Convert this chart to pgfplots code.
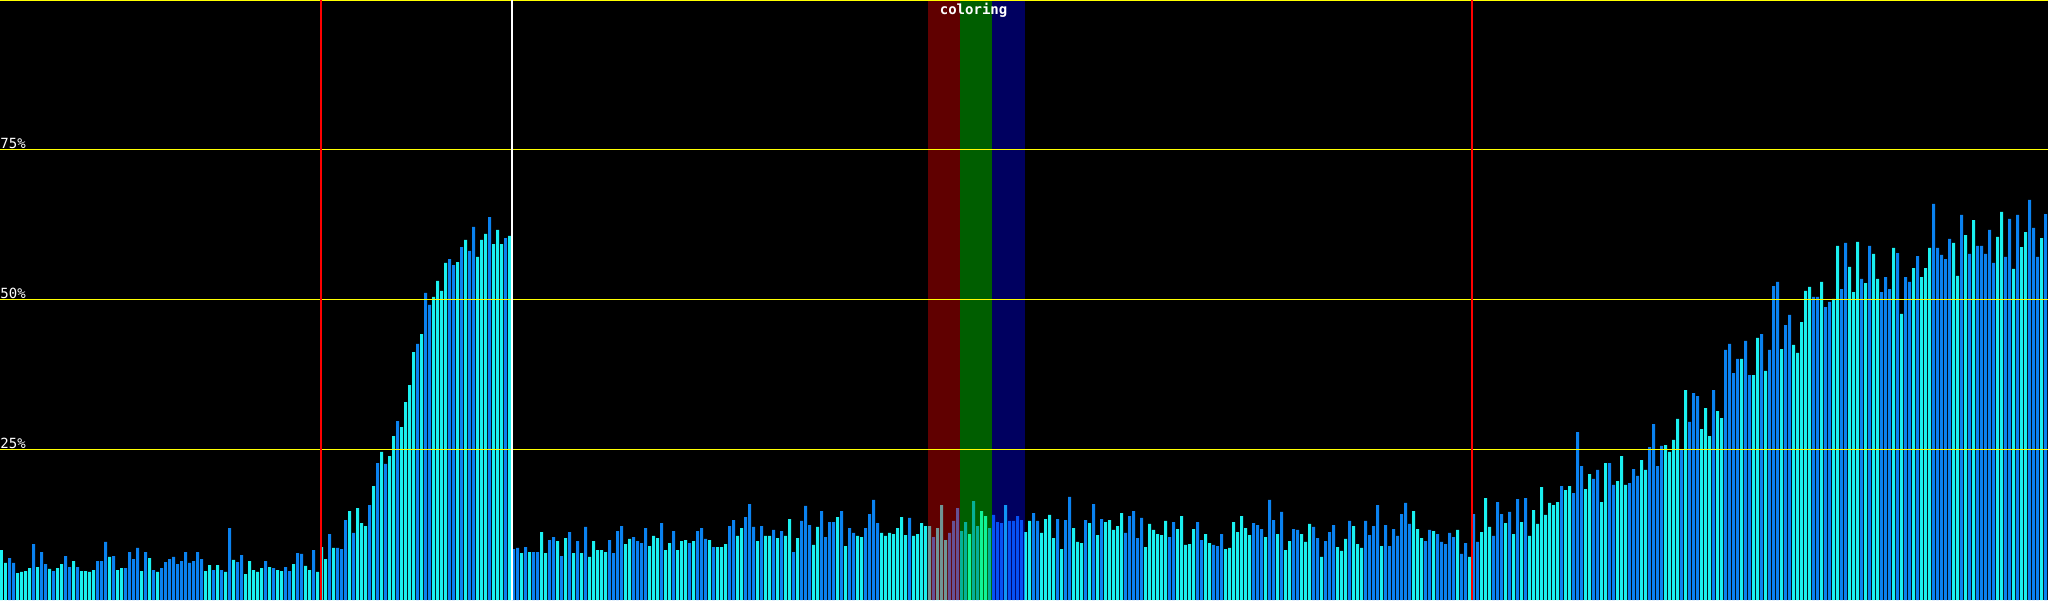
\documentclass[border=0pt]{standalone}
\usepackage{pgfplots}
\usepackage{pgfplotstable}
\pgfplotsset{compat=1.18}
\usepackage{fontspec}
\newfontfamily\monofont{DejaVu Sans Mono}
\definecolor{barblue}{RGB}{10,130,240}
\definecolor{barcyan}{RGB}{26,240,240}
\definecolor{gridyellow}{RGB}{255,255,0}
\pgfplotstableread{
i v c
0 8.3 1
1 6.2 1
2 7.0 0
3 6.2 0
4 4.5 1
5 4.7 1
6 4.8 1
7 5.3 1
8 9.3 0
9 5.5 1
10 8.0 0
11 6.0 0
12 5.2 1
13 4.8 0
14 5.3 1
15 6.0 1
16 7.3 0
17 5.5 0
18 6.5 1
19 5.5 0
20 4.8 1
21 4.8 1
22 4.7 1
23 5.0 1
24 6.5 0
25 6.5 0
26 9.7 0
27 7.2 1
28 7.3 0
29 5.0 1
30 5.3 1
31 5.3 0
32 8.0 0
33 6.8 0
34 8.7 0
35 4.8 1
36 8.0 0
37 7.0 1
38 5.0 0
39 4.7 1
40 5.3 0
41 6.3 0
42 6.8 0
43 7.2 0
44 6.0 0
45 6.5 0
46 8.0 0
47 6.2 0
48 6.5 0
49 8.0 0
50 6.8 0
51 4.8 1
52 5.8 1
53 5.0 0
54 5.8 1
55 5.0 0
56 4.7 1
57 12.0 0
58 6.7 1
59 6.3 0
60 7.5 0
61 4.3 1
62 6.5 1
63 5.0 1
64 4.7 1
65 5.3 1
66 6.5 0
67 5.5 1
68 5.3 0
69 5.0 1
70 4.8 1
71 5.5 0
72 4.8 0
73 6.0 1
74 7.8 0
75 7.7 0
76 5.7 1
77 5.0 1
78 8.3 0
79 4.7 1
80 8.8 1
81 6.8 1
82 11.0 0
83 8.7 1
84 8.7 0
85 8.5 0
86 13.3 0
87 14.8 1
88 11.2 0
89 15.3 1
90 12.8 1
91 12.3 1
92 15.8 0
93 19.0 1
94 22.8 0
95 24.7 1
96 22.7 0
97 24.0 1
98 27.3 1
99 29.8 0
100 28.8 1
101 33.0 1
102 35.8 1
103 41.3 1
104 42.7 0
105 44.3 1
106 51.2 0
107 49.2 0
108 50.5 1
109 53.2 1
110 51.5 1
111 56.2 1
112 56.8 0
113 55.8 0
114 56.3 1
115 58.8 0
116 60.0 1
117 58.2 0
118 62.2 0
119 57.2 1
120 60.0 1
121 61.0 1
122 63.8 0
123 59.3 1
124 61.7 1
125 59.3 1
126 60.3 0
127 60.7 1
128 8.5 0
129 8.7 0
130 7.8 1
131 8.8 0
132 8.0 1
133 8.0 0
134 8.0 0
135 11.3 1
136 7.8 1
137 10.0 0
138 10.5 0
139 9.8 1
140 7.3 0
141 10.3 1
142 11.3 0
143 7.8 1
144 9.8 0
145 7.8 1
146 12.2 0
147 7.2 1
148 9.8 1
149 8.3 1
150 8.3 1
151 8.0 1
152 10.0 0
153 7.8 0
154 11.5 0
155 12.3 0
156 9.3 1
157 10.2 1
158 10.5 0
159 9.8 0
160 9.5 0
161 12.0 0
162 9.0 1
163 10.7 1
164 10.3 1
165 12.8 0
166 8.3 1
167 9.5 1
168 11.5 0
169 8.3 1
170 9.8 1
171 10.0 1
172 9.5 0
173 9.8 1
174 11.5 0
175 12.0 0
176 10.2 0
177 10.0 1
178 8.8 0
179 8.8 1
180 8.8 1
181 9.3 1
182 12.3 0
183 13.3 0
184 10.7 1
185 12.0 1
186 13.8 0
187 16.0 0
188 12.2 0
189 9.8 1
190 12.3 0
191 10.7 1
192 10.7 1
193 11.7 0
194 10.3 1
195 11.5 0
196 10.7 1
197 13.5 1
198 8.0 0
199 10.3 1
200 13.2 0
201 15.7 0
202 12.5 0
203 9.2 1
204 12.2 1
205 14.8 0
206 10.5 0
207 13.0 0
208 13.0 0
209 13.8 1
210 14.8 0
211 9.0 1
212 12.0 0
213 11.2 0
214 10.7 1
215 10.5 1
216 12.0 0
217 14.3 0
218 16.7 0
219 12.8 0
220 11.2 1
221 10.7 1
222 11.2 1
223 11.0 1
224 12.0 1
225 13.8 1
226 10.8 1
227 13.7 0
228 10.7 1
229 11.0 1
230 12.8 1
231 12.3 1
232 12.3 1
233 10.5 0
234 12.0 1
235 15.8 1
236 10.0 1
237 11.2 0
238 13.2 0
239 15.3 0
240 11.5 0
241 13.0 0
242 11.0 1
243 16.5 0
244 12.3 0
245 14.8 1
246 14.0 1
247 12.0 0
248 14.2 0
249 13.0 0
250 12.8 0
251 15.8 1
252 13.2 0
253 13.2 0
254 14.0 0
255 13.3 0
256 11.3 1
257 13.2 1
258 14.5 0
259 13.2 0
260 11.2 1
261 13.5 1
262 14.2 1
263 10.3 1
264 13.5 0
265 8.5 1
266 13.3 0
267 17.2 0
268 12.0 1
269 9.7 1
270 9.5 1
271 13.3 0
272 12.8 1
273 16.0 0
274 10.8 1
275 13.5 0
276 13.0 1
277 13.3 1
278 11.7 1
279 12.3 1
280 14.5 1
281 11.2 0
282 14.0 0
283 14.8 0
284 10.3 0
285 13.7 0
286 8.8 1
287 12.7 1
288 11.7 1
289 11.0 1
290 10.8 1
291 13.2 1
292 10.5 0
293 13.0 0
294 11.8 1
295 14.0 1
296 9.2 1
297 9.3 1
298 11.8 1
299 13.0 0
300 10.0 0
301 11.0 1
302 9.5 1
303 9.2 0
304 9.0 0
305 11.0 0
306 8.5 1
307 8.7 1
308 13.0 1
309 11.3 1
310 14.0 1
311 12.0 1
312 10.8 1
313 12.8 0
314 12.5 0
315 11.8 0
316 10.5 1
317 16.7 0
318 13.3 0
319 11.0 1
320 14.7 0
321 8.3 1
322 9.8 1
323 11.8 0
324 11.7 0
325 11.0 1
326 9.7 1
327 12.7 1
328 12.2 0
329 10.3 0
330 7.2 1
331 9.8 0
332 11.3 0
333 12.5 0
334 8.8 1
335 8.2 1
336 10.2 1
337 13.2 0
338 12.3 1
339 9.3 1
340 8.7 1
341 13.2 0
342 10.8 0
343 12.3 0
344 15.8 0
345 9.0 1
346 12.5 0
347 9.0 0
348 11.8 0
349 10.7 0
350 14.3 0
351 16.2 0
352 12.7 0
353 14.8 1
354 11.8 1
355 10.3 1
356 9.8 0
357 11.7 0
358 11.5 1
359 11.0 0
360 9.7 0
361 9.3 0
362 11.2 0
363 10.5 0
364 11.7 1
365 7.7 0
366 9.5 0
367 7.2 1
368 14.3 0
369 9.7 0
370 11.3 1
371 17.0 1
372 12.2 1
373 10.7 0
374 16.3 0
375 14.3 0
376 12.8 1
377 14.7 0
378 11.0 1
379 16.8 0
380 13.0 1
381 17.0 0
382 10.7 1
383 15.0 1
384 12.7 1
385 18.8 1
386 14.2 1
387 16.2 1
388 15.8 1
389 16.3 1
390 19.0 0
391 18.3 1
392 19.0 1
393 17.8 0
394 28.0 0
395 22.3 0
396 18.5 1
397 21.0 1
398 20.2 0
399 21.7 0
400 16.3 1
401 22.8 1
402 22.8 0
403 19.2 0
404 19.8 1
405 24.0 1
406 19.2 1
407 19.5 0
408 21.8 0
409 20.7 0
410 23.3 1
411 21.7 1
412 25.5 0
413 29.3 0
414 22.3 0
415 25.7 0
416 25.8 1
417 24.7 1
418 26.7 1
419 30.2 1
420 25.0 0
421 35.0 1
422 29.7 0
423 34.5 0
424 34.0 0
425 28.5 1
426 32.0 1
427 27.3 1
428 35.0 0
429 31.5 1
430 30.3 1
431 41.7 0
432 42.7 0
433 37.8 0
434 40.2 0
435 40.2 1
436 43.2 0
437 37.5 0
438 37.5 1
439 43.7 1
440 44.3 0
441 38.2 1
442 41.7 0
443 52.3 0
444 53.0 0
445 41.8 1
446 45.8 0
447 47.5 0
448 42.5 1
449 41.2 1
450 46.3 1
451 51.5 1
452 52.2 1
453 50.5 0
454 50.5 0
455 53.0 1
456 48.8 0
457 49.7 0
458 50.2 1
459 59.0 1
460 51.8 0
461 59.5 0
462 55.5 1
463 51.3 1
464 59.7 1
465 53.5 0
466 52.8 1
467 59.0 0
468 57.7 1
469 53.5 1
470 51.3 0
471 53.8 0
472 51.8 0
473 58.7 1
474 57.8 0
475 47.7 1
476 53.8 0
477 53.0 0
478 55.3 1
479 57.3 0
480 53.8 1
481 55.3 1
482 58.7 1
483 66.0 0
484 58.7 0
485 57.5 0
486 56.8 0
487 60.2 0
488 59.5 1
489 54.0 1
490 64.2 0
491 60.8 1
492 57.7 0
493 63.3 1
494 59.0 0
495 59.0 0
496 57.7 0
497 61.7 0
498 56.2 0
499 60.5 1
500 64.7 1
501 57.2 0
502 63.5 0
503 55.2 1
504 64.2 0
505 58.8 1
506 61.3 1
507 66.7 0
508 62.0 0
509 57.2 0
510 60.3 1
511 64.3 0
}\bars
\begin{document}
\begin{tikzpicture}
\fill[black] (0,0) rectangle (1024pt,300pt);
\begin{axis}[
  at={(0,0)}, anchor=south west,
  scale only axis, width=1024pt, height=300pt,
  xmin=0, xmax=512, ymin=0, ymax=100,
  hide axis,
]
\addplot[ybar, bar width=0.75, bar shift=0pt, draw=none, fill=barblue]
  table[x expr=\thisrow{i}+0.375, y expr={\thisrow{c}>0.5 ? nan : \thisrow{v}}] {\bars};
\addplot[ybar, bar width=0.75, bar shift=0pt, draw=none, fill=barcyan]
  table[x expr=\thisrow{i}+0.375, y expr={\thisrow{c}>0.5 ? \thisrow{v} : nan}] {\bars};
% coloring bands
\fill[red, opacity=0.375] (axis cs:232,0) rectangle (axis cs:240,100);
\fill[green, opacity=0.37] (axis cs:240,0) rectangle (axis cs:248,100);
\fill[blue, opacity=0.375] (axis cs:248,0) rectangle (axis cs:256.25,100);
% grid lines
\addplot[gridyellow, line width=0.5pt] coordinates {(0,25.083) (512,25.083)};
\addplot[gridyellow, line width=0.5pt] coordinates {(0,50.083) (512,50.083)};
\addplot[gridyellow, line width=0.5pt] coordinates {(0,75.083) (512,75.083)};
\addplot[gridyellow, line width=1pt] coordinates {(0,100) (512,100)};
% vertical markers
\addplot[red, line width=1pt] coordinates {(80.25,0) (80.25,100)};
\addplot[white, line width=1pt] coordinates {(128.0,0) (128.0,100)};
\addplot[red, line width=1pt] coordinates {(368.0,0) (368.0,100)};
% labels
\node[anchor=base west, inner sep=0pt, text=white, font=\monofont\fontsize{7}{8}\selectfont] at (axis cs:0,75.3) {75\%};
\node[anchor=base west, inner sep=0pt, text=white, font=\monofont\fontsize{7}{8}\selectfont] at (axis cs:0,50.3) {50\%};
\node[anchor=base west, inner sep=0pt, text=white, font=\monofont\fontsize{7}{8}\selectfont] at (axis cs:0,25.3) {25\%};
\node[anchor=base, inner sep=0pt, text=white, font=\monofont\bfseries\fontsize{7}{8}\selectfont] at (axis cs:243.4,97.5) {coloring};
\end{axis}
\pgfresetboundingbox
\useasboundingbox (0,0) rectangle (1024pt,300pt);
\end{tikzpicture}
\end{document}
